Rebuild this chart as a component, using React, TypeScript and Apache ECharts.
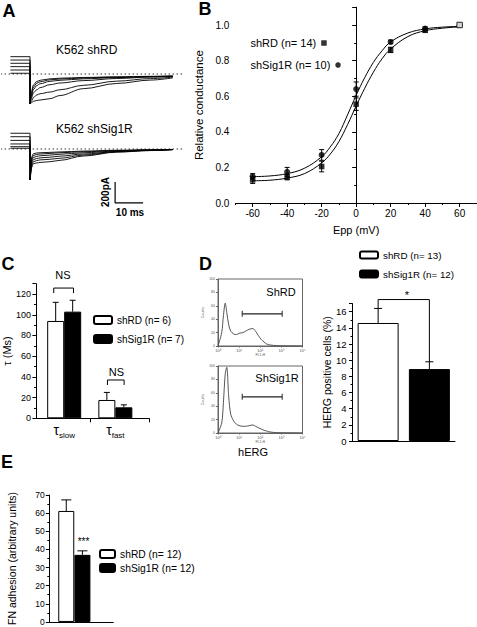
import React, { useEffect, useRef } from 'react';
import * as echarts from 'echarts';

const FONT = '"Liberation Sans", Arial, Helvetica, sans-serif';

// ---------- Panel A : current traces (ms, pA) ----------
const prepulseStart = -7;
const traceTimes = [0.05, 0.6, 1.2, 2.4, 3.6, 7.1, 10.7, 19, 31, 43, 51];
const shRDSteps = [7, 38, 70, 102, 133, 165];
const shRDTails = [
  [-285, -160, -105, -72, -60, -46, -40, -33, -27, -22, -19],
  [-285, -180, -125, -88, -74, -56, -48, -38, -30, -24, -20],
  [-285, -200, -148, -110, -93, -70, -60, -46, -34, -26, -21],
  [-285, -225, -180, -150, -130, -102, -86, -63, -43, -30, -23],
  [-285, -255, -225, -200, -188, -172, -150, -108, -68, -44, -29],
  [-285, -272, -260, -252, -248, -235, -205, -140, -90, -58, -37],
];
const shSigSteps = [7, 22, 48, 82, 117, 150];
const shSigTails = [
  [-295, -75, -45, -38, -36, -32, -28, -20, -12, -7, -4],
  [-295, -95, -62, -52, -48, -42, -36, -26, -16, -9, -5],
  [-295, -115, -82, -70, -65, -58, -50, -36, -20, -11, -6],
  [-295, -135, -102, -90, -85, -78, -68, -48, -24, -12, -6],
  [-295, -155, -122, -110, -104, -98, -88, -58, -27, -14, -5],
  [-295, -175, -140, -133, -128, -121, -108, -67, -30, -15, -5],
];
const baselineSpan = [-10.5, 54.5];
const scaleBarMs = 10;
const scaleBarPA = 200;
const scaleBarOrigin = [30.4, -314];

// ---------- Panel B : conductance-voltage ----------
const eppValues = [-60, -40, -20, 0, 20, 40, 60];
const shRDConductance = [0.13, 0.145, 0.205, 0.555, 0.86, 0.97, 1.0];
const shRDErr = [0.02, 0.015, 0.03, 0.035, 0.015, 0.01, 0];
const shSigConductance = [0.15, 0.175, 0.27, 0.64, 0.905, 0.98, 1.0];
const shSigErr = [0.015, 0.025, 0.03, 0.04, 0.01, 0.01, 0];
const fitVoltages = [-60, -50, -40, -30, -20, -15, -10, -5, 0, 5, 10, 15, 20, 30, 40, 50, 60];
const shRDFit = [0.125, 0.128, 0.14, 0.165, 0.225, 0.275, 0.345, 0.44, 0.545, 0.645, 0.735, 0.81, 0.865, 0.935, 0.968, 0.982, 0.99];
const shSigFit = [0.148, 0.152, 0.165, 0.195, 0.26, 0.315, 0.39, 0.495, 0.605, 0.705, 0.79, 0.855, 0.905, 0.955, 0.978, 0.988, 0.992];
const eppMajorTicks = [-60, -40, -20, 0, 20, 40, 60];
const eppMinorTicks = [-70, -50, -30, -10, 10, 30, 50, 70];

// ---------- Panel C : time constants ----------
const tauCategories = ['slow', 'fast'];
const tauPositions = [1, 2.81];
const tauShRD = [94, 17.7];
const tauShRDErr = [18, 7.3];
const tauShSig = [103, 10.6];
const tauShSigErr = [11, 2.4];
const nsBracketSlow = [[0.63, 121], [0.63, 125.8], [1.33, 125.8], [1.33, 121]];
const nsBracketFast = [[2.53, 32.2], [2.53, 37], [3.12, 37], [3.12, 32.2]];
const tauTickPositions = [1.93, 4];

// ---------- Panel D : hERG positive cells ----------
const hergGroups = ['shRD', 'shSig1R'];
const hergValues = [14.6, 8.9];
const hergErr = [1.8, 0.9];
const hergBracketLevel = 17.5;
const histBins = [1, 1.5, 1.8, 2.2, 2.6, 3.2, 4, 5.5, 7.5, 10, 15, 20, 30, 45, 60, 80, 110, 150, 200, 300, 600, 1000, 10000];
const histShRD = [0, 20, 45, 64, 50, 32, 22, 18, 17, 19, 20, 22, 25, 26, 22, 16, 10, 6, 3, 1.5, 0.5, 0.3, 0];
const histShSig = [0, 15, 45, 88, 98, 55, 28, 18, 13, 11, 10, 10, 11, 12, 10, 8, 6, 4, 3, 1.5, 0.5, 0.3, 0];
const gateRange = [14, 1090];
const gateLevelShRD = 48;
const gateLevelShSig = 54;

// ---------- Panel E : FN adhesion ----------
const fnPositions = [1.06, 2.07];
const fnValues = [61.2, 37];
const fnErr = [6.1, 2.2];

const superscripts = ['⁰', '¹', '²', '³', '⁴'];

function line(x1: number, y1: number, x2: number, y2: number) {
  return { type: 'line', shape: { x1, y1, x2, y2 }, style: { stroke: '#000', lineWidth: 1 } };
}

function errorBars(axis: number, data: number[][], offset: number, cap: number, both = false) {
  return {
    type: 'custom',
    xAxisIndex: axis,
    yAxisIndex: axis,
    silent: true,
    clip: false,
    z: 5,
    data,
    renderItem: (_p: any, api: any) => {
      const x = api.value(0);
      const y = api.value(1);
      const e = api.value(2);
      if (!e) return { type: 'group', children: [] };
      const lo = api.coord([x, both ? y - e : y]);
      const hi = api.coord([x, y + e]);
      const cx = hi[0] + offset;
      const children: any[] = [line(cx, lo[1], cx, hi[1]), line(cx - cap / 2, hi[1], cx + cap / 2, hi[1])];
      if (both) children.push(line(cx - cap / 2, lo[1], cx + cap / 2, lo[1]));
      return { type: 'group', children };
    },
  };
}

const hiddenAxis = (min: number, max: number, gridIndex: number) => ({
  type: 'value', gridIndex, min, max, show: false,
});

function buildOption() {
  const series: any[] = [];

  // Panel A
  const traceSet = (steps: number[], tails: number[][], axis: number) => {
    steps.forEach((s, i) => {
      series.push({
        type: 'line', xAxisIndex: axis, yAxisIndex: axis, silent: true, symbol: 'none',
        lineStyle: { color: '#000', width: 0.9 },
        data: [[prepulseStart, s], [0, s], [traceTimes[0], tails[i][0]]],
      });
      series.push({
        type: 'line', xAxisIndex: axis, yAxisIndex: axis, silent: true, symbol: 'none',
        smooth: 0.35, smoothMonotone: 'x',
        lineStyle: { color: '#000', width: 0.9 },
        data: traceTimes.map((t, j) => [t, tails[i][j]]),
      });
    });
    series.push({
      type: 'line', xAxisIndex: axis, yAxisIndex: axis, silent: true, symbol: 'none',
      lineStyle: { color: '#333', width: 1, type: [1.5, 2.5] },
      data: baselineSpan.map((t) => [t, 0]),
      z: 1,
    });
  };
  traceSet(shRDSteps, shRDTails, 0);
  traceSet(shSigSteps, shSigTails, 1);
  series.push({
    type: 'line', xAxisIndex: 1, yAxisIndex: 1, silent: true, symbol: 'none',
    lineStyle: { color: '#000', width: 1.2 },
    data: [
      [scaleBarOrigin[0], scaleBarOrigin[1]],
      [scaleBarOrigin[0], scaleBarOrigin[1] - scaleBarPA],
      [scaleBarOrigin[0] + scaleBarMs, scaleBarOrigin[1] - scaleBarPA],
    ],
  });

  // Panel B
  series.push({
    type: 'line', xAxisIndex: 2, yAxisIndex: 2, silent: true, symbol: 'none', smooth: 0.4,
    lineStyle: { color: '#000', width: 1 },
    data: fitVoltages.map((v, i) => [v, shRDFit[i]]),
  });
  series.push({
    type: 'line', xAxisIndex: 2, yAxisIndex: 2, silent: true, symbol: 'none', smooth: 0.4,
    lineStyle: { color: '#000', width: 1 },
    data: fitVoltages.map((v, i) => [v, shSigFit[i]]),
  });
  series.push(errorBars(2, eppValues.map((v, i) => [v, shSigConductance[i], shSigErr[i]]), 0, 5, true));
  series.push(errorBars(2, eppValues.map((v, i) => [v, shRDConductance[i], shRDErr[i]]), 0, 5, true));
  series.push({
    type: 'scatter', name: 'shSig1R (n= 10)', xAxisIndex: 2, yAxisIndex: 2, symbol: 'circle', symbolSize: 6,
    itemStyle: { color: '#000' }, z: 6,
    data: eppValues.map((v, i) => [v, shSigConductance[i]]),
  });
  series.push({
    type: 'scatter', name: 'shRD (n= 14)', xAxisIndex: 2, yAxisIndex: 2, symbol: 'rect', symbolSize: 5.5,
    itemStyle: { color: '#000' }, z: 7,
    data: eppValues.map((v, i) =>
      i === eppValues.length - 1
        ? { value: [v, shRDConductance[i]], itemStyle: { color: '#fff', borderColor: '#000', borderWidth: 1 } }
        : [v, shRDConductance[i]]
    ),
  });

  // Panel C
  const barWhite = { color: '#fff', borderColor: '#000', borderWidth: 1 };
  const barBlack = { color: '#000', borderColor: '#000', borderWidth: 1 };
  series.push({
    type: 'bar', name: 'shRD (n= 6)', xAxisIndex: 3, yAxisIndex: 3, barWidth: 17, barGap: '0%',
    itemStyle: barWhite, data: tauPositions.map((p, i) => [p, tauShRD[i]]),
  });
  series.push({
    type: 'bar', name: 'shSig1R (n= 7)', xAxisIndex: 3, yAxisIndex: 3, barWidth: 17, barGap: '0%',
    itemStyle: barBlack, data: tauPositions.map((p, i) => [p, tauShSig[i]]),
  });
  series.push(errorBars(3, tauPositions.map((p, i) => [p, tauShRD[i], tauShRDErr[i]]), -8.5, 6));
  series.push(errorBars(3, tauPositions.map((p, i) => [p, tauShSig[i], tauShSigErr[i]]), 8.5, 6));
  [nsBracketSlow, nsBracketFast].forEach((b) =>
    series.push({
      type: 'line', xAxisIndex: 3, yAxisIndex: 3, silent: true, symbol: 'none', clip: false,
      lineStyle: { color: '#000', width: 1 }, data: b,
    })
  );

  // Panel D bars
  series.push({
    type: 'bar', name: 'shRD (n= 13)', xAxisIndex: 4, yAxisIndex: 4, barWidth: 41, barGap: '-100%',
    itemStyle: barWhite, data: [hergValues[0], '-'],
  });
  series.push({
    type: 'bar', name: 'shSig1R (n= 12)', xAxisIndex: 4, yAxisIndex: 4, barWidth: 41, barGap: '-100%',
    itemStyle: barBlack, data: ['-', hergValues[1]],
  });
  series.push(errorBars(4, hergValues.map((v, i) => [i, v, hergErr[i]]), 0, 8));
  series.push({
    type: 'line', xAxisIndex: 4, yAxisIndex: 4, silent: true, symbol: 'none', clip: false,
    lineStyle: { color: '#000', width: 1 },
    data: [
      [0, hergValues[0] + hergErr[0]],
      [0, hergBracketLevel],
      [1, hergBracketLevel],
      [1, hergValues[1] + hergErr[1]],
    ],
  });

  // Panel D histograms
  [[histShRD, 5, gateLevelShRD], [histShSig, 6, gateLevelShSig]].forEach(([h, ax, lvl]: any) => {
    series.push({
      type: 'line', xAxisIndex: ax, yAxisIndex: ax, silent: true, symbol: 'none', smooth: 0.3,
      lineStyle: { color: '#444', width: 0.9 },
      data: histBins.map((b, i) => [b, h[i]]),
    });
    series.push({
      type: 'line', xAxisIndex: ax, yAxisIndex: ax, silent: true, symbol: 'rect', symbolSize: [1, 6],
      itemStyle: { color: '#222' }, lineStyle: { color: '#222', width: 1.2 },
      data: gateRange.map((g) => [g, lvl]),
    });
  });

  // Panel E
  series.push({
    type: 'bar', name: 'shRD (n= 12)', xAxisIndex: 7, yAxisIndex: 7, barWidth: 16, barGap: '-100%',
    itemStyle: barWhite, data: [[fnPositions[0], fnValues[0]]],
  });
  series.push({
    type: 'bar', name: 'shSig1R (n= 12)', xAxisIndex: 7, yAxisIndex: 7, barWidth: 16, barGap: '-100%',
    itemStyle: barBlack, data: [[fnPositions[1], fnValues[1]]],
  });
  series.push(errorBars(7, fnPositions.map((p, i) => [p, fnValues[i], fnErr[i]]), 0, 10));

  const axisLine = { lineStyle: { color: '#000', width: 1 } };
  const tick = (len: number) => ({ length: len, lineStyle: { color: '#000', width: 1 } });
  const minor = (len: number) => ({ show: true, splitNumber: 2, length: len, lineStyle: { color: '#000', width: 1 } });
  const lab = (size: number, margin: number, extra: any = {}) => ({
    fontSize: size, color: '#000', fontFamily: FONT, margin, showMaxLabel: false, ...extra,
  });
  const nameStyle = (size: number) => ({ fontSize: size, color: '#000', fontFamily: FONT });

  const histX = (gridIndex: number) => ({
    type: 'log', logBase: 10, gridIndex, min: 1, max: 10000,
    axisLine: { lineStyle: { color: '#666', width: 1 } },
    axisTick: { length: 1.5, lineStyle: { color: '#666' } },
    axisLabel: {
      fontSize: 4, color: '#555', fontFamily: FONT, margin: 2,
      formatter: (v: number) => '10' + superscripts[Math.round(Math.log10(v))],
    },
    splitLine: { show: false },
    name: 'FL1-H', nameLocation: 'middle', nameGap: 7, nameTextStyle: { fontSize: 3.5, color: '#555', fontFamily: FONT },
  });
  const histY = (gridIndex: number) => ({
    type: 'value', gridIndex, min: 0, max: 100, interval: 20,
    axisLine: { show: true, lineStyle: { color: '#666', width: 1 } },
    axisTick: { show: true, length: 2, lineStyle: { color: '#666' } },
    axisLabel: { fontSize: 3.5, color: '#555', fontFamily: FONT, margin: 3 },
    splitLine: { show: false },
    name: 'Counts', nameLocation: 'middle', nameGap: 8, nameTextStyle: { fontSize: 3.5, color: '#555', fontFamily: FONT },
  });

  const text = (t: string, x: number, y: number, font: string, extra: any = {}) => ({
    type: 'text', x, y, silent: true, ...extra,
    style: { text: t, font, fill: '#000', textAlign: 'center', textVerticalAlign: 'middle', ...(extra.style || {}) },
  });
  const letter = (t: string, x: number, y: number) => text(t, x, y, `bold 18px ${FONT}`);

  const legendB = (name: string, icon: string, top: number) => ({
    data: [{ name, icon }],
    left: 250.5, top, orient: 'vertical', align: 'right', padding: 0,
    itemWidth: 5.5, itemHeight: 5.5, selectedMode: false,
    textStyle: { fontSize: 11, color: '#000', fontFamily: FONT },
  });

  return {
    animation: false,
    backgroundColor: '#fff',
    textStyle: { fontFamily: FONT },
    grid: [
      { left: 2, top: 56.15, width: 182, height: 49.35 },
      { left: 2, top: 131.15, width: 182, height: 80.85 },
      { left: 235.4, top: 7.2, width: 241.5, height: 195.8 },
      { left: 35, top: 283.7, width: 114, height: 134.6 },
      { left: 352.5, top: 303.6, width: 102.5, height: 137.4 },
      { left: 218, top: 279, width: 84.5, height: 67, show: true, borderColor: '#666', borderWidth: 1 },
      { left: 218, top: 366, width: 84.5, height: 67, show: true, borderColor: '#666', borderWidth: 1 },
      { left: 49.3, top: 495, width: 64, height: 129.3 },
    ],
    xAxis: [
      hiddenAxis(-10, 55, 0),
      hiddenAxis(-10, 55, 1),
      {
        type: 'value', gridIndex: 2, min: -70, max: 70, interval: 10, position: 'bottom',
        axisLine, splitLine: { show: false },
        axisTick: { show: true, length: 4, customValues: eppMajorTicks, lineStyle: { color: '#000', width: 1 } },
        axisLabel: { fontSize: 10, color: '#000', fontFamily: FONT, margin: 5, customValues: eppMajorTicks },
        name: 'Epp (mV)', nameLocation: 'middle', nameGap: 21, nameTextStyle: nameStyle(11),
      },
      {
        type: 'value', gridIndex: 3, min: 0, max: 4,
        axisLine, splitLine: { show: false },
        axisTick: { show: true, length: 4, customValues: tauTickPositions, lineStyle: { color: '#000' } },
        axisLabel: {
          show: true, margin: 5, customValues: tauPositions, color: '#000', fontFamily: FONT,
          formatter: (v: number) => {
            const i = tauPositions.indexOf(v);
            return i < 0 ? '' : `{t|τ}{s|${tauCategories[i]}}`;
          },
          rich: {
            t: { fontSize: 14, lineHeight: 16, verticalAlign: 'top', color: '#000', fontFamily: FONT },
            s: { fontSize: 8, lineHeight: 6, verticalAlign: 'bottom', color: '#000', fontFamily: FONT },
          },
        },
      },
      {
        type: 'category', gridIndex: 4, data: hergGroups,
        axisLine, axisTick: { show: false }, axisLabel: { show: false },
      },
      histX(5),
      histX(6),
      {
        type: 'value', gridIndex: 7, min: 0, max: 4,
        axisLine, axisTick: { show: false }, axisLabel: { show: false }, splitLine: { show: false },
      },
      {
        // minor ticks of panel B's voltage axis
        type: 'value', gridIndex: 2, min: -70, max: 70, interval: 10, position: 'bottom', offset: 0,
        axisLine: { show: false }, splitLine: { show: false }, axisLabel: { show: false },
        axisTick: { show: true, length: 2, customValues: eppMinorTicks, lineStyle: { color: '#000', width: 1 } },
      },
    ],
    yAxis: [
      hiddenAxis(-300, 170, 0),
      hiddenAxis(-600, 170, 1),
      {
        type: 'value', gridIndex: 2, min: 0, max: 1.1, interval: 0.2,
        axisLine: { show: true, ...axisLine }, axisTick: { show: true, ...tick(4) }, minorTick: minor(2),
        splitLine: { show: false },
        axisLabel: lab(10, 6, { formatter: (v: number) => v.toFixed(1) }),
        name: 'Relative conductance', nameLocation: 'middle', nameGap: 26, nameTextStyle: nameStyle(11.5),
      },
      {
        type: 'value', gridIndex: 3, min: 0, max: 130, interval: 20,
        axisLine: { show: true, ...axisLine }, axisTick: { show: true, ...tick(3.5) }, minorTick: minor(2),
        splitLine: { show: false },
        axisLabel: lab(9, 5),
        name: 'τ (Ms)', nameLocation: 'middle', nameGap: 20, nameTextStyle: nameStyle(11),
      },
      {
        type: 'value', gridIndex: 4, min: 0, max: 17, interval: 2,
        axisLine: { show: true, ...axisLine }, axisTick: { show: true, ...tick(3.5) }, minorTick: minor(2),
        splitLine: { show: false },
        axisLabel: lab(9.5, 6),
        name: 'HERG positive cells (%)', nameLocation: 'middle', nameGap: 20, nameTextStyle: nameStyle(10.5),
      },
      histY(5),
      histY(6),
      {
        type: 'value', gridIndex: 7, min: 0, max: 70, interval: 10,
        axisLine: { show: true, ...axisLine }, axisTick: { show: true, ...tick(3.5) }, minorTick: minor(2),
        splitLine: { show: false },
        axisLabel: lab(8.5, 4.5, { showMaxLabel: true }),
        name: 'FN adhesion (arbitrary units)', nameLocation: 'middle', nameGap: 32, nameTextStyle: nameStyle(10.5),
      },
    ],
    legend: [
      legendB('shRD (n= 14)', 'rect', 37.5),
      legendB('shSig1R (n= 10)', 'circle', 59.5),
      {
        data: ['shRD (n= 6)', 'shSig1R (n= 7)'],
        left: 93, top: 315, orient: 'vertical', padding: 0, itemGap: 9, itemWidth: 18, itemHeight: 8,
        selectedMode: false, textStyle: { fontSize: 10, color: '#000', fontFamily: FONT },
      },
      {
        data: ['shRD (n= 13)', 'shSig1R (n= 12)'],
        left: 359, top: 250, orient: 'vertical', padding: 0, itemGap: 9, itemWidth: 18, itemHeight: 7,
        selectedMode: false, textStyle: { fontSize: 9.8, color: '#000', fontFamily: FONT },
      },
      {
        data: ['shRD (n= 12)', 'shSig1R (n= 12)'],
        left: 99, top: 549, orient: 'vertical', padding: 0, itemGap: 4, itemWidth: 15, itemHeight: 8,
        selectedMode: false, textStyle: { fontSize: 10.3, color: '#000', fontFamily: FONT },
      },
    ],
    graphic: {
      elements: [
        letter('A', 9, 11),
        letter('B', 205, 9),
        letter('C', 8, 264),
        letter('D', 205.5, 264),
        letter('E', 7, 462),
        text('K562 shRD', 56, 50, `12px ${FONT}`, { style: { textAlign: 'left' } }),
        text('K562 shSig1R', 56, 128.5, `12px ${FONT}`, { style: { textAlign: 'left' } }),
        text('200pA', 105, 192, `bold 10px ${FONT}`, { rotation: Math.PI / 2 }),
        text('10 ms', 130, 212.5, `bold 10px ${FONT}`),
        text('NS', 63, 275, `11px ${FONT}`),
        text('NS', 116.5, 372, `11px ${FONT}`),
        text('ShRD', 281, 292, `11px ${FONT}`),
        text('ShSig1R', 277, 378, `11px ${FONT}`),
        text('hERG', 253, 452, `11px ${FONT}`),
        text('*', 407, 295, `11px ${FONT}`),
        text('***', 83.5, 541, `10px ${FONT}`),
      ],
    },
    series,
  };
}

export default function App() {
  const ref = useRef<HTMLDivElement>(null);
  useEffect(() => {
    if (!ref.current) return;
    const chart = echarts.init(ref.current, undefined, { renderer: 'svg' });
    chart.setOption(buildOption() as any);
    return () => chart.dispose();
  }, []);
  return (
    <div
      ref={ref}
      style={{ position: 'fixed', left: 0, top: 0, width: 477, height: 627, background: '#fff' }}
    />
  );
}
